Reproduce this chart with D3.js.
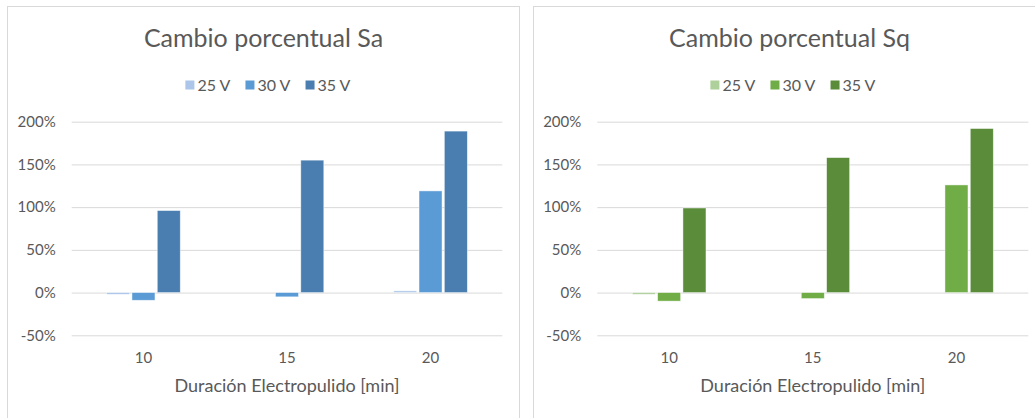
<!DOCTYPE html>
<html>
<head>
<meta charset="utf-8">
<script src="https://cdn.jsdelivr.net/npm/d3@7"></script>
<style>
  html, body { margin: 0; padding: 0; background: #fff; }
  svg { display: block; }
  text { font-family: Lato, "Open Sans", sans-serif; fill: #595959; }
</style>
</head>
<body>
<svg id="chart" width="1035" height="418"></svg>
<script>
// Durations (min) on the category axis
const durations = ["10", "15", "20"];
// Voltage series
const voltages = ["25 V", "30 V", "35 V"];
// Percentage change of Sa per voltage, by duration
const sa25 = [-2, 0, 2];
const sa30 = [-9, -5, 119];
const sa35 = [96, 155, 189];
// Percentage change of Sq per voltage, by duration
const sq25 = [-2, 0, 0];
const sq30 = [-10, -7, 126];
const sq35 = [99, 158, 192];
// Value-axis ticks (%)
const yTicks = [-50, 0, 50, 100, 150, 200];

const titles = ["Cambio porcentual Sa", "Cambio porcentual Sq"];
const axisTitle = "Duración Electropulido [min]";

const panels = [
  {
    title: titles[0],
    series: [sa25, sa30, sa35],
    colors: ["#abc6e8", "#5b9bd5", "#4a7eb0"],
    box: [7.5, 6.5, 512, 420],
    plot: { left: 71.7, right: 502.3, top: 121.7, bottom: 335.3 },
    titleCx: 263.5,
    legendCx: 268
  },
  {
    title: titles[1],
    series: [sq25, sq30, sq35],
    colors: ["#aed09a", "#70ad47", "#5a8c3a"],
    box: [533.5, 6.5, 520, 420],
    plot: { left: 597.3, right: 1028.3, top: 121.7, bottom: 335.3 },
    titleCx: 789.5,
    legendCx: 793
  }
];

const svg = d3.select("#chart");

panels.forEach(p => {
  const g = svg.append("g");
  const [bx, by, bw, bh] = p.box;

  // chart frame
  g.append("rect")
    .attr("x", bx).attr("y", by).attr("width", bw).attr("height", bh)
    .attr("fill", "#fff").attr("stroke", "#d9d9d9").attr("stroke-width", 1);

  const y = d3.scaleLinear().domain([-50, 200]).range([p.plot.bottom, p.plot.top]);
  const x = d3.scaleBand().domain(durations).range([p.plot.left, p.plot.right]).padding(0);

  // bar width from band: band = w * (3 bars + 2 * 10% gaps + ~304% gap)
  const w = x.bandwidth() / (3.2 + 3.04);
  const xs = d3.scaleBand().domain(voltages)
    .range([-1.6 * w, 1.6 * w]).paddingInner(0.1 / 1.1).paddingOuter(0);

  // horizontal gridlines and value labels
  const yAxis = d3.axisLeft(y).tickValues(yTicks)
    .tickSize(-(p.plot.right - p.plot.left))
    .tickFormat(d => d + "%")
    .tickPadding(16);
  const ya = g.append("g").attr("transform", `translate(${p.plot.left},0)`).call(yAxis);
  ya.select(".domain").remove();
  ya.selectAll(".tick line").attr("stroke", "#d9d9d9").attr("stroke-width", 1);
  ya.selectAll(".tick text")
    .attr("font-size", 15).attr("fill", "#595959")
    .style("font-family", "Lato, 'Open Sans', sans-serif");

  // bars
  p.series.forEach((vals, si) => {
    g.append("g").selectAll("rect")
      .data(durations.map((d, i) => ({ d, v: vals[i] })))
      .join("rect")
      .attr("x", d => x(d.d) + x.bandwidth() / 2 + xs(voltages[si]))
      .attr("width", xs.bandwidth())
      .attr("y", d => y(Math.max(0, d.v)))
      .attr("height", d => Math.abs(y(d.v) - y(0)))
      .attr("fill", p.colors[si])
      .attr("stroke", "#ffffff").attr("stroke-opacity", 0.6).attr("stroke-width", 0.75);
  });

  // category axis labels (no line)
  const xAxis = d3.axisBottom(x).tickSize(0).tickPadding(0);
  const xa = g.append("g").attr("transform", `translate(0,${p.plot.bottom})`).call(xAxis);
  xa.select(".domain").remove();
  xa.selectAll(".tick text")
    .attr("y", 28).attr("dy", 0)
    .attr("font-size", 15).attr("fill", "#595959")
    .style("font-family", "Lato, 'Open Sans', sans-serif");

  // axis title
  g.append("text")
    .attr("x", (p.plot.left + p.plot.right) / 2).attr("y", 391.5)
    .attr("text-anchor", "middle").attr("font-size", 18)
    .text(axisTitle);

  // chart title
  g.append("text")
    .attr("x", p.titleCx).attr("y", 46.5)
    .attr("text-anchor", "middle").attr("font-size", 25)
    .text(p.title);

  // legend
  const lg = g.append("g");
  const items = lg.selectAll("g").data(voltages).join("g");
  items.append("rect").attr("width", 9).attr("height", 9).attr("y", 80.5)
    .attr("fill", (d, i) => p.colors[i]);
  items.append("text").attr("x", 12).attr("y", 90.5).attr("font-size", 16).text(d => d);
  let cx = 0;
  items.each(function () {
    d3.select(this).attr("transform", `translate(${cx},0)`);
    cx += this.getBBox().width + 15;
  });
  const total = cx - 15;
  lg.attr("transform", `translate(${p.legendCx - total / 2},0)`);
});
</script>
</body>
</html>
